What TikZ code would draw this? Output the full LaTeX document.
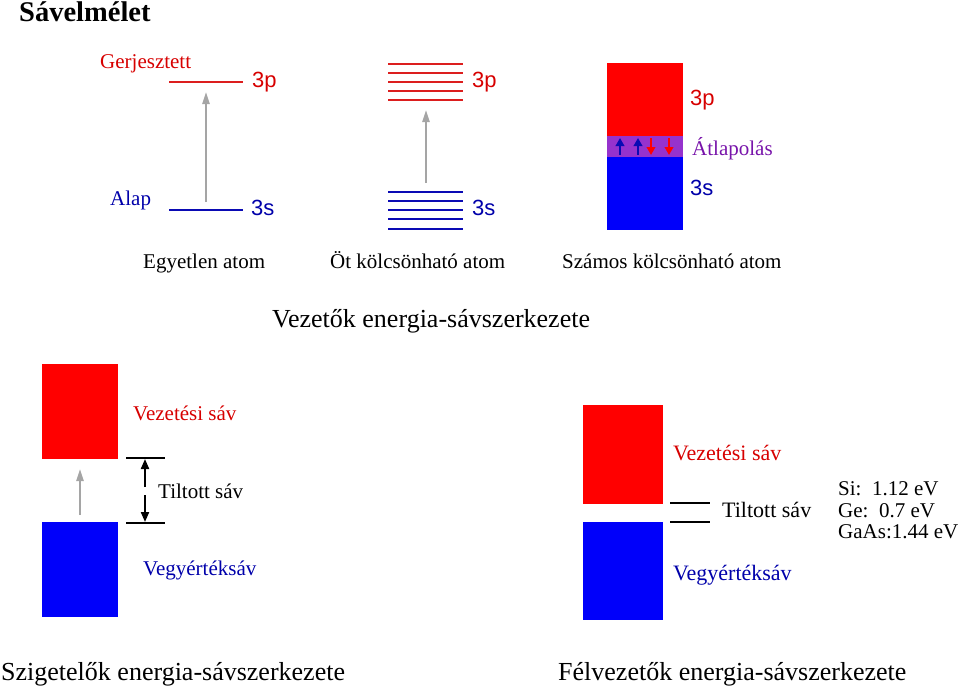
\documentclass[tikz,border=0pt]{standalone}
\usepackage{fontspec}
\setmainfont{Liberation Serif}
\setsansfont{Liberation Sans}
\usetikzlibrary{positioning,arrows.meta}
\definecolor{bandred}{RGB}{255,0,0}
\definecolor{bandblue}{RGB}{0,0,250}
\definecolor{overlapcol}{RGB}{150,50,205}
\definecolor{txtred}{RGB}{215,0,0}
\definecolor{txtblue}{RGB}{0,0,170}
\definecolor{txtpurple}{RGB}{120,20,170}
\definecolor{lvlredcol}{RGB}{220,30,30}
\definecolor{lvlbluecol}{RGB}{10,10,180}
\definecolor{excitecol}{RGB}{165,165,165}

\begin{document}
\begin{tikzpicture}[
                x=1pt, y=-1pt,
                txt/.style={font=\fontsize{21}{24}\selectfont, anchor=base west, inner sep=0pt},
                orb/.style={font=\sffamily\fontsize{22}{26}\selectfont, anchor=base west, inner sep=0pt},
                caption/.style={font=\fontsize{26}{30}\selectfont, anchor=base west, inner sep=0pt},
                band/.style={rectangle, inner sep=0pt, anchor=north west},
                level/.style={line width=2.4pt},
                excite/.style={-{Triangle[length=12pt,width=7pt]}, draw=excitecol, line width=2.2pt},
                gapline/.style={line width=1.8pt, draw=black},
                gaparrow/.style={-{Triangle[length=10pt,width=8pt]}, line width=2pt},
                spin/.style={-{Triangle[length=8pt,width=8.5pt]}, line width=2.6pt}
                ]
                \useasboundingbox (0,0) rectangle (960,689);
                \node[font=\bfseries\fontsize{28.5}{32}\selectfont, anchor=base west, inner sep=0pt] (title) at (19,21) {Sávelmélet};

                % single atom
                \draw[level, lvlredcol] (169,82) -- (243,82);
                \draw[level, lvlbluecol] (169,210) -- (243,210);
                \node[orb, text=txtred] (p1) at (252,87) {3p};
                \node[orb, text=txtblue] (s1) at (251,215) {3s};
                \node[txt, text=txtred] (gerj) at (100,68) {Gerjesztett};
                \node[txt, text=txtblue] (alap) at (110,205) {Alap};
                \coordinate (ex1a) at (206,202);
                \coordinate (ex1b) at (206,92);
                \draw[excite] (ex1a) -- (ex1b);

                % five atoms
                \foreach \y in {64,73,82,91,100} \draw[level, lvlredcol] (388,\y) -- (463,\y);
                \foreach \y in {192,201,210,219,229} \draw[level, lvlbluecol] (388,\y) -- (463,\y);
                \node[orb, text=txtred] (p2) at (472,87) {3p};
                \node[orb, text=txtblue] (s2) at (472,215) {3s};
                \coordinate (ex2a) at (426,183);
                \coordinate (ex2b) at (426,110);
                \draw[excite] (ex2a) -- (ex2b);

                % many atoms
                \node[band, fill=bandred, minimum width=76pt, minimum height=73pt] (cb3) at (607,63) {};
                \node[band, fill=overlapcol, minimum width=76pt, minimum height=21pt] (ov3) at (607,136) {};
                \node[band, fill=bandblue, minimum width=76pt, minimum height=73pt] (vb3) at (607,157) {};
                \foreach \x in {620,638} \draw[spin, draw=lvlbluecol, fill=lvlbluecol] (\x,155) -- (\x,138);
                \foreach \x in {651,669} \draw[spin, draw=bandred, fill=bandred] (\x,138) -- (\x,155);
                \node[orb, text=txtred] (p3) at (690,105) {3p};
                \node[txt, text=txtpurple] (atlap) at (692,155) {Átlapolás};
                \node[orb, text=txtblue] (s3) at (690,195) {3s};

                \node[txt] (egy) at (143,268) {Egyetlen atom};
                \node[txt] (ot) at (330,268) {Öt kölcsönható atom};
                \node[txt] (szamos) at (562,268) {Számos kölcsönható atom};
                \node[caption] (vez) at (272,327) {Vezetők energia-sávszerkezete};

                % insulator
                \node[band, fill=bandred, minimum width=76pt, minimum height=95pt] (cbI) at (42,364) {};
                \node[band, fill=bandblue, minimum width=76pt, minimum height=95pt] (vbI) at (42,522) {};
                \coordinate (exIa) at (80,515);
                \coordinate (exIb) at (80,469);
                \draw[excite] (exIa) -- (exIb);
                \draw[gapline] (126,458) -- (165,458);
                \draw[gapline] (126,523) -- (165,523);
                \coordinate (gIm1) at (145,487);
                \coordinate (gIt) at (145,459);
                \coordinate (gIm2) at (145,495);
                \coordinate (gIb) at (145,522);
                \draw[gaparrow] (gIm1) -- (gIt);
                \draw[gaparrow] (gIm2) -- (gIb);
                \node[txt, text=txtred] (vezI) at (133,420) {Vezetési sáv};
                \node[txt] (tiltI) at (158,498) {Tiltott sáv};
                \node[txt, text=txtblue] (vegyI) at (143,575) {Vegyértéksáv};
                \node[caption] (szig) at (1,680) {Szigetelők energia-sávszerkezete};

                % semiconductor
                \node[band, fill=bandred, minimum width=80pt, minimum height=99pt] (cbS) at (583,405) {};
                \node[band, fill=bandblue, minimum width=80pt, minimum height=98pt] (vbS) at (583,522) {};
                \draw[gapline] (670,503) -- (710,503);
                \draw[gapline] (670,522) -- (710,522);
                \node[txt, font=\fontsize{22}{25}\selectfont, text=txtred] (vezS) at (673,460) {Vezetési sáv};
                \node[txt, font=\fontsize{22}{25}\selectfont] (tiltS) at (722,517) {Tiltott sáv};
                \node[txt, font=\fontsize{22}{25}\selectfont, text=txtblue] (vegyS) at (673,580) {Vegyértéksáv};
                \node[txt] (si) at (838,495) {Si:~~1.12 eV};
                \node[txt] (ge) at (838,517) {Ge:~~0.7 eV};
                \node[txt] (gaas) at (838,538) {GaAs:1.44 eV};
                \node[caption] (felv) at (558,680) {Félvezetők energia-sávszerkezete};
            \end{tikzpicture}
\end{document}
